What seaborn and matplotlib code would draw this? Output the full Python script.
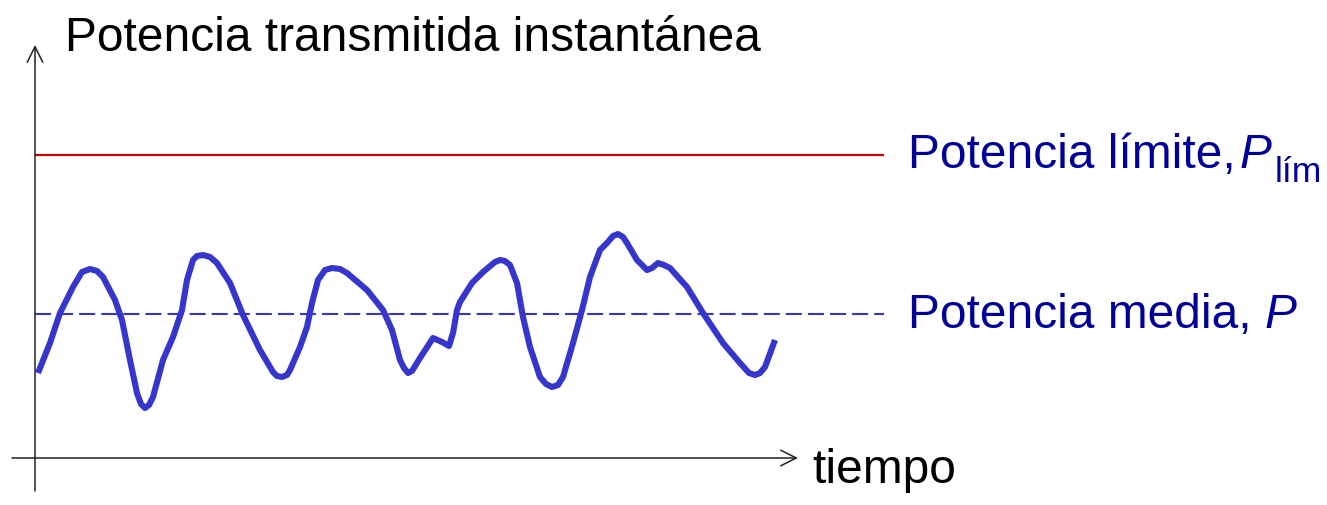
import matplotlib
matplotlib.use("Agg")
import matplotlib.pyplot as plt
import seaborn as sns
import pandas as pd

# Instantaneous transmitted power over time (arbitrary units, origin at the axes corner)
tiempo = [3, 15, 25, 38, 47, 55, 62, 68, 80, 87,
          95, 102, 106, 110, 114, 118, 128, 138, 147, 152,
          158, 162, 168, 175, 182, 195, 208, 225, 238, 242,
          247, 252, 255, 265, 272, 277, 283, 290, 297, 305,
          312, 332, 348, 357, 365, 369, 373, 377, 385, 398,
          407, 414, 418, 422, 425, 437, 448, 460, 465, 470,
          475, 482, 488, 495, 505, 511, 517, 523, 528, 538,
          547, 555, 565, 572, 578, 583, 588, 592, 602, 612,
          617, 623, 629, 635, 652, 668, 688, 705, 714, 720,
          725, 730, 740]
potencia = [86, 116, 146, 172, 187, 190, 188, 182, 159, 139,
            99, 66, 55, 51, 54, 62, 99, 122, 149, 179,
            199, 203, 204, 202, 196, 176, 144, 109, 87, 83,
            82, 84, 89, 112, 132, 156, 179, 189, 191, 190,
            186, 169, 149, 129, 99, 91, 86, 88, 101, 121,
            117, 113, 126, 149, 157, 176, 187, 197, 199, 198,
            194, 176, 142, 112, 82, 75, 72, 74, 82, 116,
            149, 182, 209, 216, 223, 225, 222, 216, 199, 189,
            191, 196, 194, 191, 172, 146, 116, 96, 86, 84,
            86, 92, 119]
potencia_media = 145
potencia_limite = 304

df = pd.DataFrame({"tiempo": tiempo, "potencia": potencia})

sns.set_theme(style="white")
plt.rcParams["font.family"] = ["Liberation Sans", "DejaVu Sans"]

fig = plt.figure(figsize=(13.27, 5.05), dpi=100)
ax = fig.add_axes([0, 0, 1, 1])
ax.set_xlim(-35, 1292)
ax.set_ylim(-46, 459)
ax.axis("off")

curve_color = "#3636CC"
label_color = "#000099"

# Reference levels
ax.plot([0, 849], [potencia_limite, potencia_limite], color="#CC0000", lw=1.6,
        solid_capstyle="butt")
ax.plot([0, 849], [potencia_media, potencia_media], color=curve_color, lw=1.5,
        dashes=(7.7, 2.9))

# Power signal
sns.lineplot(data=df, x="tiempo", y="potencia", sort=False, ax=ax, color=curve_color,
             lw=4.4, solid_joinstyle="round", solid_capstyle="butt")
ax.set_xlabel("")
ax.set_ylabel("")

# Axes drawn as arrows
arrow = dict(arrowstyle="->", lw=1.1, color="#222222", mutation_scale=28,
             shrinkA=0, shrinkB=0)
ax.annotate("", xy=(0, 414), xytext=(0, -32), arrowprops=arrow)
ax.annotate("", xy=(763, 1), xytext=(-23, 1), arrowprops=arrow)

fs = 34.5
ax.text(30, 408, "Potencia transmitida instantánea", fontsize=fs, color="black",
        va="baseline", ha="left")
ax.text(777, -24, "tiempo", fontsize=fs, color="black", va="baseline", ha="left")

t_lim = ax.text(873, 291, "Potencia límite,", fontsize=fs, color=label_color,
                va="baseline", ha="left")
t_p = ax.annotate("P", xy=(1, 0), xycoords=t_lim, xytext=(3, 0),
                  textcoords="offset points", fontsize=fs, color=label_color,
                  style="italic", va="bottom", ha="left")
ax.annotate("lím", xy=(1, 0), xycoords=t_p, xytext=(2, -3), textcoords="offset points",
            fontsize=fs * 0.74, color=label_color, va="baseline", ha="left")

t_med = ax.text(873, 131, "Potencia media, ", fontsize=fs, color=label_color,
                va="baseline", ha="left")
ax.annotate("P", xy=(1, 0), xycoords=t_med, fontsize=fs, color=label_color,
            style="italic", va="bottom", ha="left")

fig.savefig("out.png", dpi=100, facecolor="white")
